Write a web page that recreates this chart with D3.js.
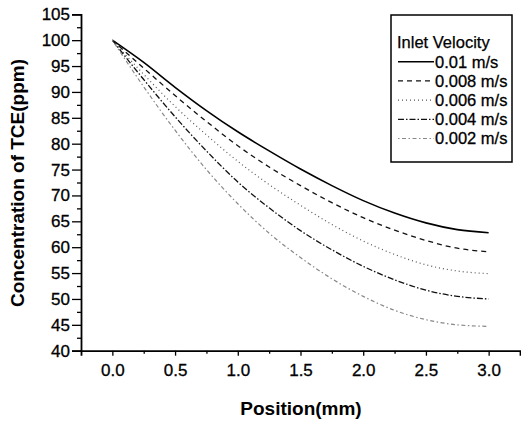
<!DOCTYPE html>
<html>
<head>
<meta charset="utf-8">
<script src="https://cdn.jsdelivr.net/npm/d3@7"></script>
<style>
  body { margin: 0; background: #fff; }
  svg { display: block; font-family: "Liberation Sans", Arial, sans-serif; }
</style>
</head>
<body>
<svg width="521" height="424"></svg>
<script>
// Data
var positions = [0, 0.25, 0.5, 0.75, 1.0, 1.25, 1.5, 1.75, 2.0, 2.25, 2.5, 2.75, 3.0];
var v001  = [100, 95.7, 90.9, 86.4, 82.3, 78.6, 75.1, 71.9, 69.0, 66.6, 64.7, 63.4, 62.8];
var v0008 = [100, 94.6, 89.3, 84.3, 79.6, 75.5, 71.9, 68.6, 65.7, 63.3, 61.3, 59.8, 59.1];
var v0006 = [100, 93.4, 87.2, 81.7, 76.6, 72.1, 68.1, 64.4, 61.2, 58.6, 56.6, 55.4, 54.9];
var v0004 = [100, 92.4, 85.2, 78.6, 72.6, 67.6, 63.2, 59.5, 56.3, 53.7, 51.7, 50.5, 50.0];
var v0002 = [100, 91.0, 82.6, 75.0, 68.4, 62.7, 58.0, 53.9, 50.5, 47.8, 46.0, 45.0, 44.7];
var seriesNames = ["0.01 m/s", "0.008 m/s", "0.006 m/s", "0.004 m/s", "0.002 m/s"];
var yTicks = [40, 45, 50, 55, 60, 65, 70, 75, 80, 85, 90, 95, 100, 105];
var xTicks = [0, 0.5, 1.0, 1.5, 2.0, 2.5, 3.0];

var series = [v001, v0008, v0006, v0004, v0002];
var styles = [
  {stroke: "#000", width: 1.6, dash: null},
  {stroke: "#111", width: 1.3, dash: "5,4"},
  {stroke: "#555", width: 1.2, dash: "1,3"},
  {stroke: "#111", width: 1.3, dash: "6,2,1.5,2"},
  {stroke: "#888", width: 1.2, dash: "1.5,2.5,4,2.5"}
];

var svg = d3.select("svg");

var x = d3.scaleLinear().domain([-0.25, 3.25]).range([81, 520]);
var y = d3.scaleLinear().domain([40, 105]).range([350.7, 14.3]);

// curves
var line = d3.line()
    .x((d, i) => x(positions[i]))
    .y(d => y(d))
    .curve(d3.curveMonotoneX);

svg.append("g")
    .attr("fill", "none")
    .selectAll("path")
    .data(series)
    .join("path")
      .attr("d", line)
      .attr("stroke", (d, i) => styles[i].stroke)
      .attr("stroke-width", (d, i) => styles[i].width)
      .attr("stroke-dasharray", (d, i) => styles[i].dash);

// axes
var yMinor = d3.range(42.5, 105, 5);
var xMinor = d3.range(0.25, 3.25, 0.5);

var gy = svg.append("g").attr("transform", "translate(81,0)");
gy.call(d3.axisLeft(y).tickValues(yTicks).tickSize(9).tickPadding(2).tickFormat(d3.format("d")));
gy.append("g").call(d3.axisLeft(y).tickValues(yMinor).tickSize(4).tickFormat(""))
    .select(".domain").remove();

var gx = svg.append("g").attr("transform", "translate(0,350.7)");
gx.call(d3.axisBottom(x).tickValues(xTicks).tickSize(5).tickPadding(8).tickFormat(d3.format(".1f")));
gx.append("g").call(d3.axisBottom(x).tickValues(xMinor).tickSize(3).tickFormat(""))
    .select(".domain").remove();

svg.selectAll(".domain").attr("stroke", "#000").attr("stroke-width", 1.8);
svg.selectAll(".tick line").attr("stroke", "#000").attr("stroke-width", 1.3);
svg.selectAll(".tick text")
    .attr("font-family", "Liberation Sans, Arial, sans-serif")
    .attr("font-size", 17)
    .attr("fill", "#000")
    .attr("stroke", "#000")
    .attr("stroke-width", 0.3);

// axis titles
svg.append("text")
    .attr("transform", "translate(24,183) rotate(-90)")
    .attr("text-anchor", "middle")
    .attr("font-weight", "bold")
    .attr("font-size", 19)
    .text("Concentration of TCE(ppm)");

svg.append("text")
    .attr("x", 301)
    .attr("y", 415)
    .attr("text-anchor", "middle")
    .attr("font-weight", "bold")
    .attr("font-size", 19)
    .text("Position(mm)");

// legend
var legend = svg.append("g");
legend.append("rect")
    .attr("x", 391).attr("y", 15)
    .attr("width", 121).attr("height", 147)
    .attr("fill", "#fff")
    .attr("stroke", "#000")
    .attr("stroke-width", 1.5);

legend.append("text")
    .attr("x", 397).attr("y", 47.5)
    .attr("font-size", 16.5)
    .attr("stroke", "#000")
    .attr("stroke-width", 0.25)
    .text("Inlet Velocity");

var item = legend.selectAll("g.item")
    .data(seriesNames)
    .join("g")
      .attr("class", "item")
      .attr("transform", (d, i) => `translate(0,${61.7 + i * 19.2})`);

item.append("line")
    .attr("x1", 398).attr("x2", 434)
    .attr("stroke", (d, i) => styles[i].stroke)
    .attr("stroke-width", (d, i) => styles[i].width)
    .attr("stroke-dasharray", (d, i) => styles[i].dash);

item.append("text")
    .attr("x", 435).attr("dy", "0.36em")
    .attr("font-size", 16.5)
    .attr("stroke", "#000")
    .attr("stroke-width", 0.3)
    .text(d => d);
</script>
</body>
</html>
